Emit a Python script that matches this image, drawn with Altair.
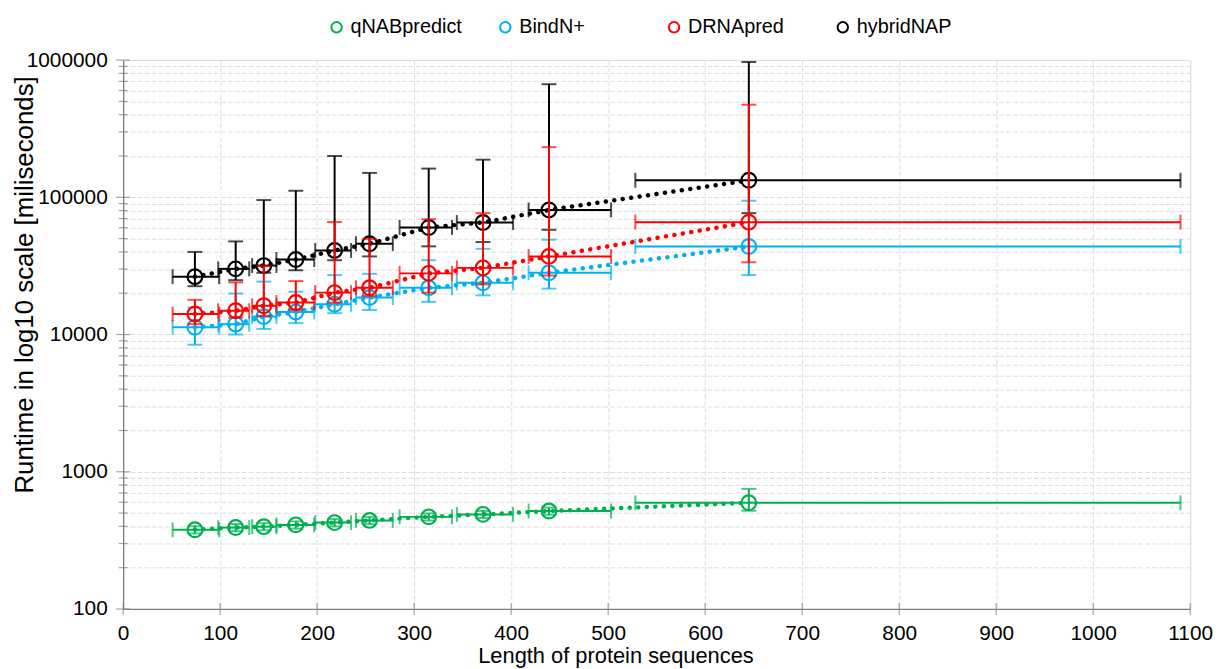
import altair as alt
import pandas as pd

# ---------------- data ----------------
series_names = ["qNABpredict", "BindN+", "DRNApred", "hybridNAP"]
series_colors = ["#00B050", "#00B0F0", "#FF0000", "#000000"]

# sequence-length bins (shared by all predictors)
x_center = [74, 116, 145, 178, 218, 254, 315, 371, 439, 645]
x_low = [51, 98, 133, 158, 198, 240, 285, 344, 418, 528]
x_high = [99, 130, 158, 197, 235, 278, 339, 402, 503, 1090]

qnab_mean = [378, 392, 398, 410, 426, 442, 469, 489, 517, 594]
qnab_low = [355, 369, 374, 385, 400, 415, 441, 460, 486, 520]
qnab_high = [401, 416, 422, 435, 452, 469, 497, 518, 548, 750]

bindn_mean = [11300, 11900, 13500, 14600, 16600, 18600, 21900, 23800, 28200, 43800]
bindn_low = [8430, 10000, 11000, 12100, 14300, 15100, 17300, 19300, 21600, 27100]
bindn_high = [15700, 19900, 24300, 20500, 27100, 27700, 34800, 42100, 49100, 94400]

drna_mean = [14100, 14900, 16200, 17100, 20200, 21900, 27900, 30600, 37100, 65900]
drna_low = [11900, 13300, 13700, 15100, 17100, 19100, 20200, 23200, 26900, 33600]
drna_high = [17900, 24000, 31500, 24500, 66000, 49600, 69200, 76600, 232000, 473000]

hybrid_mean = [26400, 30100, 31800, 35200, 41000, 45900, 60300, 65500, 80900, 133000]
hybrid_low = [22500, 24900, 28200, 29400, 34800, 37100, 43900, 47200, 58000, 76600]
hybrid_high = [40000, 47700, 95500, 111600, 200000, 150600, 161900, 188000, 667000, 968000]

x_ticks = [0, 100, 200, 300, 400, 500, 600, 700, 800, 900, 1000, 1100]
y_major = [100, 1000, 10000, 100000, 1000000]
y_minor = [200, 300, 400, 500, 600, 700, 800, 900,
           2000, 3000, 4000, 5000, 6000, 7000, 8000, 9000,
           20000, 30000, 40000, 50000, 60000, 70000, 80000, 90000,
           200000, 300000, 400000, 500000, 600000, 700000, 800000, 900000]

series_values = {
    "qNABpredict": (qnab_mean, qnab_low, qnab_high),
    "BindN+": (bindn_mean, bindn_low, bindn_high),
    "DRNApred": (drna_mean, drna_low, drna_high),
    "hybridNAP": (hybrid_mean, hybrid_low, hybrid_high),
}
color_of = dict(zip(series_names, series_colors))

rows = []
for name in series_names:
    m, lo, hi = series_values[name]
    for i in range(len(x_center)):
        rows.append({"series": name, "x": x_center[i], "xlo": x_low[i], "xhi": x_high[i],
                     "y": m[i], "ylo": lo[i], "yhi": hi[i]})
df = pd.DataFrame(rows)

# ---------------- scales / axes ----------------
FONT = "Liberation Sans, Arial, sans-serif"
xscale = alt.Scale(domain=[0, 1100], nice=False, zero=False)
yscale = alt.Scale(type="log", domain=[100, 1000000], nice=False)
cscale = alt.Scale(domain=series_names, range=series_colors)

xaxis = alt.Axis(values=x_ticks, format="d", grid=True, gridDash=[5, 2], gridColor="#dedede", gridWidth=1,
                 ticks=False, tickSize=0, domainColor="#7f7f7f", domainWidth=1.3,
                 labelFontSize=21, labelPadding=14, labelFlush=False, labelOverlap=False,
                 labelColor="#000000", labelFont=FONT,
                 title="Length of protein sequences", titleFontSize=22, titleFont=FONT,
                 titleFontWeight="normal", titleColor="#000000",
                 titleX=496, titleY=54, titleBaseline="alphabetic", titleAlign="center")

yaxis = alt.Axis(values=y_major + y_minor, grid=True, gridDash=[5, 2], gridColor="#dedede", gridWidth=1,
                 ticks=False, tickSize=0, domainColor="#7f7f7f", domainWidth=1.3,
                 labelFontSize=21, labelPadding=16, labelOverlap=False, labelColor="#000000",
                 labelFont=FONT,
                 labelExpr="abs(log(datum.value)/LN10 - round(log(datum.value)/LN10)) < 0.001 ? format(datum.value, 'd') : ''",
                 title="Runtime in log10 scale [miliseconds]", titleFontSize=26, titleFont=FONT,
                 titleFontWeight="normal", titleColor="#000000",
                 titleX=-91, titleY=226, titleBaseline="alphabetic", titleAlign="center")

legend = alt.Legend(title=None, orient="none", direction="horizontal", columns=4,
                    legendX=205, legendY=-43, gridAlign="all", columnPadding=33,
                    labelFontSize=20, labelFont=FONT, labelColor="#000000", labelOffset=4,
                    symbolType="circle", symbolSize=110, symbolStrokeWidth=2, padding=0)

base = alt.Chart(df)

# axis tick marks crossing the axis lines
ymaj_df = pd.DataFrame({"v": y_major})
ymin_df = pd.DataFrame({"v": y_minor})
xt_df = pd.DataFrame({"v": x_ticks})

ytick_major = alt.Chart(ymaj_df).mark_tick(orient="horizontal", size=14, thickness=1.2, color="#7f7f7f").encode(
    x=alt.value(0), y=alt.Y("v:Q", scale=yscale, axis=yaxis))
ytick_minor = alt.Chart(ymin_df).mark_tick(orient="horizontal", size=9, thickness=1.2, color="#7f7f7f").encode(
    x=alt.value(0), y=alt.Y("v:Q", scale=yscale, axis=yaxis))
xtick = alt.Chart(xt_df).mark_tick(orient="vertical", size=12, thickness=1.2, color="#7f7f7f").encode(
    x=alt.X("v:Q", scale=xscale, axis=xaxis), y=alt.value(553))

layers = [ytick_major, ytick_minor, xtick]

draw_order = ["qNABpredict", "hybridNAP", "BindN+", "DRNApred"]
for name in draw_order:
    c = color_of[name]
    b = base.transform_filter(alt.datum.series == name)
    X = alt.X("x:Q", scale=xscale, axis=xaxis)
    Y = alt.Y("y:Q", scale=yscale, axis=yaxis)
    line = b.mark_line(strokeDash=[0.1, 8.5], strokeCap="round", strokeWidth=4.5, color=c).encode(
        x=X, y=Y, order="x:Q")
    vrule = b.mark_rule(strokeWidth=2, color=c).encode(
        x=X, y=alt.Y("ylo:Q", scale=yscale, axis=yaxis), y2="yhi:Q")
    hrule = b.mark_rule(strokeWidth=2, color=c).encode(
        x=alt.X("xlo:Q", scale=xscale, axis=xaxis), x2="xhi:Q", y=Y)
    cap_lo = b.mark_tick(orient="horizontal", size=15, thickness=2, color=c).encode(
        x=X, y=alt.Y("ylo:Q", scale=yscale, axis=yaxis))
    cap_hi = b.mark_tick(orient="horizontal", size=15, thickness=2, color=c).encode(
        x=X, y=alt.Y("yhi:Q", scale=yscale, axis=yaxis))
    cap_l = b.mark_tick(orient="vertical", size=15, thickness=2, color=c).encode(
        x=alt.X("xlo:Q", scale=xscale, axis=xaxis), y=Y)
    cap_r = b.mark_tick(orient="vertical", size=15, thickness=2, color=c).encode(
        x=alt.X("xhi:Q", scale=xscale, axis=xaxis), y=Y)
    pts = b.mark_point(shape="circle", filled=False, size=220, strokeWidth=2.2, opacity=1).encode(
        x=X, y=Y, color=alt.Color("series:N", scale=cscale, legend=legend))
    layers += [line, vrule, hrule, cap_lo, cap_hi, cap_l, cap_r, pts]

chart = alt.layer(*layers).properties(
    width=1075, height=553,
    padding={"left": 116, "top": 50, "right": 25, "bottom": 58},
    autosize=alt.AutoSizeParams(type="none"),
    background="white",
).configure_view(stroke=None).configure(font=FONT)

chart.save("out.html", embed_options={"renderer": "svg", "actions": False})
